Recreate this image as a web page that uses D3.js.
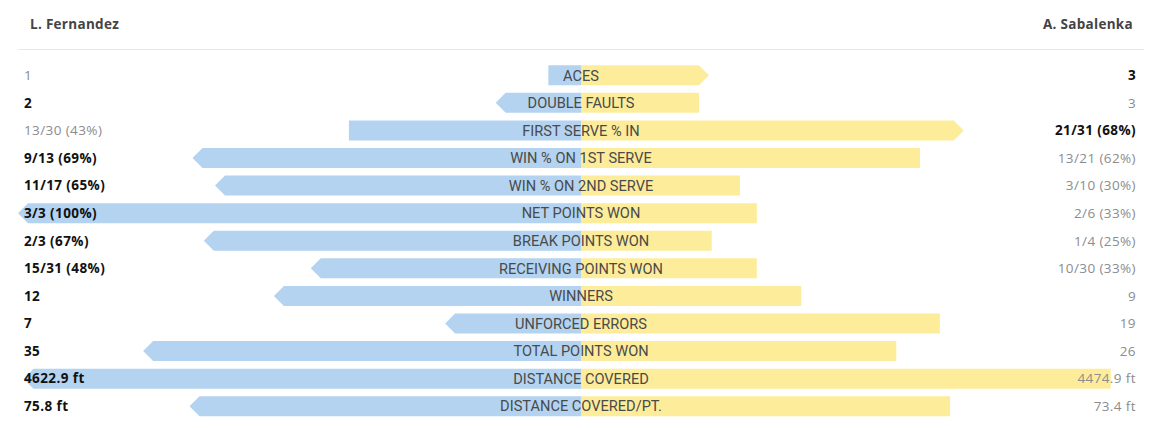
<!DOCTYPE html>
<html><head><meta charset="utf-8">
<script src="https://cdn.jsdelivr.net/npm/d3@7"></script>
<style>
html,body{margin:0;padding:0;background:#fff;}
svg{display:block;}
</style></head>
<body>
<svg id="chart" width="1154" height="428"></svg>
<script>
const players = ["L. Fernandez", "A. Sabalenka"];
const categories = ["ACES","DOUBLE FAULTS","FIRST SERVE % IN","WIN % ON 1ST SERVE","WIN % ON 2ND SERVE","NET POINTS WON","BREAK POINTS WON","RECEIVING POINTS WON","WINNERS","UNFORCED ERRORS","TOTAL POINTS WON","DISTANCE COVERED","DISTANCE COVERED/PT."];
const leftLabels = ["1","2","13/30 (43%)","9/13 (69%)","11/17 (65%)","3/3 (100%)","2/3 (67%)","15/31 (48%)","12","7","35","4622.9 ft","75.8 ft"];
const rightLabels = ["3","3","21/31 (68%)","13/21 (62%)","3/10 (30%)","2/6 (33%)","1/4 (25%)","10/30 (33%)","9","19","26","4474.9 ft","73.4 ft"];
const leftValues = [1,2,43,69,65,100,67,48,12,7,35,4622.9,75.8];
const rightValues = [3,3,68,62,30,33,25,33,9,19,26,4474.9,73.4];
const rowMax = [13.2,13.2,100,100,100,100,100,100,22,29,45,4668,109];
const winner = ["R","L","R","L","L","L","L","L","L","L","L","L","L"];

const svg = d3.select("#chart");
const cx = 581, halfW = 563, arrow = 10, barH = 20;
const y = d3.scaleBand().domain(categories).range([61.5, 420]).paddingInner(0.275).paddingOuter(0.1375);
const blue = "#b3d3f0", yellow = "#fdec9a";
const valFont = "'Open Sans', 'DejaVu Sans', sans-serif";

// header
svg.append("text").attr("x", 30).attr("y", 24).attr("dy", "0.35em")
  .attr("font-family", valFont).attr("font-size", 13.5).attr("font-weight", 700)
  .attr("letter-spacing", 0.3).attr("fill", "#444").text(players[0]);
svg.append("text").attr("x", 1133).attr("y", 24).attr("dy", "0.35em").attr("text-anchor", "end")
  .attr("font-family", valFont).attr("font-size", 13.5).attr("font-weight", 700)
  .attr("letter-spacing", 0.3).attr("fill", "#444").text(players[1]);
svg.append("line").attr("x1", 18).attr("x2", 1144).attr("y1", 49.5).attr("y2", 49.5)
  .attr("stroke", "#e8e8e8").attr("stroke-width", 1);

function barPath(x0, dir, len, hasArrow, top, h) {
  const body = len - arrow;
  const xe = x0 + dir * body;
  if (hasArrow) {
    const xt = x0 + dir * len;
    return `M${x0},${top}L${xe},${top}L${xt},${top + h / 2}L${xe},${top + h}L${x0},${top + h}Z`;
  }
  return `M${x0},${top}L${xe},${top}L${xe},${top + h}L${x0},${top + h}Z`;
}

categories.forEach((c, i) => {
  const s = d3.scaleLinear().domain([0, rowMax[i]]).range([0, halfW]);
  const yc = y(c) + y.bandwidth() / 2;
  const top = yc - barH / 2;
  svg.append("path").attr("d", barPath(cx, -1, s(leftValues[i]), winner[i] === "L", top, barH)).attr("fill", blue);
  svg.append("path").attr("d", barPath(cx, 1, s(rightValues[i]), winner[i] === "R", top, barH)).attr("fill", yellow);
  svg.append("text").attr("x", cx).attr("y", yc).attr("dy", "0.36em").attr("text-anchor", "middle")
    .attr("font-family", "Roboto, sans-serif").attr("font-size", 14.6).attr("fill", "#4a4a4a")
    .text(c);
  svg.append("text").attr("x", 24).attr("y", yc).attr("dy", "0.36em")
    .attr("font-family", valFont).attr("font-size", 13.5).attr("letter-spacing", 0.4)
    .attr("font-weight", winner[i] === "L" ? 700 : 400)
    .attr("fill", winner[i] === "L" ? "#111" : "#8c8c8c").text(leftLabels[i]);
  svg.append("text").attr("x", 1136).attr("y", yc).attr("dy", "0.36em").attr("text-anchor", "end")
    .attr("font-family", valFont).attr("font-size", 13.5).attr("letter-spacing", 0.4)
    .attr("font-weight", winner[i] === "R" ? 700 : 400)
    .attr("fill", winner[i] === "R" ? "#111" : "#8c8c8c").text(rightLabels[i]);
});
</script>
</body></html>
